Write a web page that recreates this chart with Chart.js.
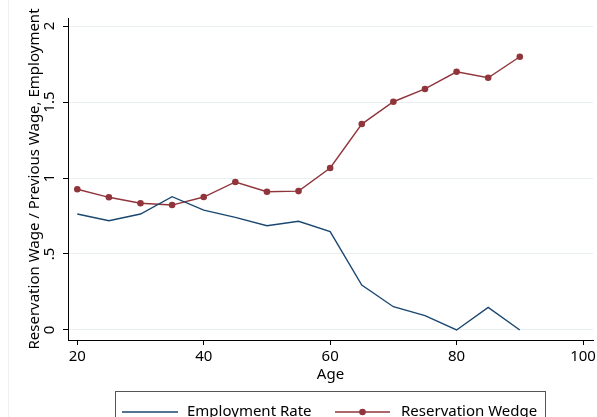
<!DOCTYPE html>
<html>
<head>
<meta charset="utf-8">
<script src="https://cdn.jsdelivr.net/npm/chart.js@4.4.0/dist/chart.umd.min.js"></script>
<style>
  html, body { margin: 0; padding: 0; background: #fff; }
  #wrap { width: 597px; height: 417px; position: relative; }
</style>
</head>
<body>
<div id="wrap"><canvas id="c" width="597" height="417"></canvas></div>
<script>
const ages = [20, 25, 30, 35, 40, 45, 50, 55, 60, 65, 70, 75, 80, 85, 90];
const employmentRate = [0.763, 0.719, 0.763, 0.877, 0.789, 0.741, 0.686, 0.715, 0.647, 0.296, 0.153, 0.094, 0.0, 0.149, 0.0];
const reservationWedge = [0.926, 0.873, 0.834, 0.822, 0.875, 0.974, 0.910, 0.914, 1.066, 1.355, 1.502, 1.586, 1.699, 1.660, 1.798];
const xTicks = [20, 40, 60, 80, 100];
const yTicks = [0, 0.5, 1, 1.5, 2];
const seriesNames = ['Employment Rate', 'Reservation Wedge'];
const xTitle = 'Age';
const yTitle = 'Reservation Wage / Previous Wage, Employment';

const BLUE = '#1a476f';
const RED = '#90353b';
const FONT = "'Noto Sans', 'Open Sans', sans-serif";

const toXY = (xs, ys) => xs.map((x, i) => ({x: x, y: ys[i]}));
const fmtY = v => (v === 0 ? '0' : String(v).replace(/^0\./, '.'));

// Rotated y tick labels (Stata style), placed through the y scale
const yLabelPlugin = {
  id: 'yRotLabels',
  afterDraw(chart) {
    const ctx = chart.ctx;
    const ys = chart.scales.y;
    ctx.save();
    ctx.font = '15px ' + FONT;
    ctx.fillStyle = '#000';
    ctx.textAlign = 'center';
    ctx.textBaseline = 'middle';
    ys.ticks.forEach(t => {
      const py = ys.getPixelForValue(t.value);
      ctx.save();
      ctx.translate(ys.right - 18, py);
      ctx.rotate(-Math.PI / 2);
      ctx.fillText(fmtY(t.value), 0, 0);
      ctx.restore();
    });
    ctx.restore();
  }
};

const legendPlugin = {
  id: 'stataLegend',
  afterDraw(chart) {
    const ctx = chart.ctx;
    ctx.save();
    ctx.strokeStyle = '#eef1f3';
    ctx.lineWidth = 1;
    ctx.beginPath(); ctx.moveTo(8.5, 0); ctx.lineTo(8.5, 417); ctx.stroke();
    ctx.strokeStyle = '#555';
    ctx.strokeRect(115.5, 391.5, 430, 40);
    const yc = 412;
    ctx.font = '15px ' + FONT;
    ctx.textBaseline = 'middle';
    ctx.fillStyle = '#000';
    ctx.strokeStyle = chart.data.datasets[0].borderColor;
    ctx.lineWidth = 1.3;
    ctx.beginPath(); ctx.moveTo(122, yc); ctx.lineTo(178, yc); ctx.stroke();
    ctx.fillText(chart.data.datasets[0].label, 187, yc);
    ctx.strokeStyle = chart.data.datasets[1].borderColor;
    ctx.beginPath(); ctx.moveTo(335, yc); ctx.lineTo(390, yc); ctx.stroke();
    ctx.fillStyle = chart.data.datasets[1].pointBackgroundColor;
    ctx.beginPath(); ctx.arc(362.5, yc, 3.3, 0, Math.PI * 2); ctx.fill();
    ctx.fillStyle = '#000';
    ctx.fillText(chart.data.datasets[1].label, 401, yc);
    ctx.restore();
  }
};

new Chart(document.getElementById('c'), {
  type: 'line',
  data: {
    datasets: [
      {
        label: seriesNames[0],
        data: toXY(ages, employmentRate),
        borderColor: BLUE,
        backgroundColor: BLUE,
        borderWidth: 1.4,
        pointRadius: 0,
        tension: 0,
        fill: false
      },
      {
        label: seriesNames[1],
        data: toXY(ages, reservationWedge),
        borderColor: RED,
        backgroundColor: RED,
        pointBackgroundColor: RED,
        pointBorderColor: RED,
        borderWidth: 1.4,
        pointRadius: 3.3,
        pointBorderWidth: 0,
        tension: 0,
        fill: false
      }
    ]
  },
  options: {
    responsive: false,
    animation: false,
    devicePixelRatio: 1,
    layout: { padding: { left: 0, right: 4, top: 18, bottom: 0 } },
    plugins: {
      legend: { display: false },
      tooltip: { enabled: false }
    },
    scales: {
      x: {
        type: 'linear',
        min: 18.53,
        max: 101.58,
        afterBuildTicks: s => { s.ticks = xTicks.map(v => ({value: v})); },
        afterFit: s => { s.height = 77; s.paddingLeft = 0; s.paddingRight = 0; },
        grid: { drawOnChartArea: false, drawTicks: true, tickLength: 5, tickColor: '#000' },
        border: { display: true, color: '#000', width: 1 },
        ticks: { color: '#000', font: { family: FONT, size: 15 }, padding: 3, maxRotation: 0, autoSkip: false },
        title: { display: true, text: xTitle, color: '#000', font: { family: FONT, size: 15 }, padding: { top: 0, bottom: 33 } }
      },
      y: {
        type: 'linear',
        min: -0.066,
        max: 2.053,
        afterBuildTicks: s => { s.ticks = yTicks.map(v => ({value: v})); },
        afterFit: s => { s.width = 68; s.paddingTop = 0; s.paddingBottom = 0; },
        grid: { color: '#e9eff1', lineWidth: 1, drawTicks: true, tickLength: 5, tickColor: '#000' },
        border: { display: true, color: '#000', width: 1 },
        ticks: { display: false },
        title: { display: true, text: yTitle, color: '#000', font: { family: FONT, size: 15 }, padding: { top: 26, bottom: 0 } }
      }
    }
  },
  plugins: [yLabelPlugin, legendPlugin]
});
</script>
</body>
</html>
